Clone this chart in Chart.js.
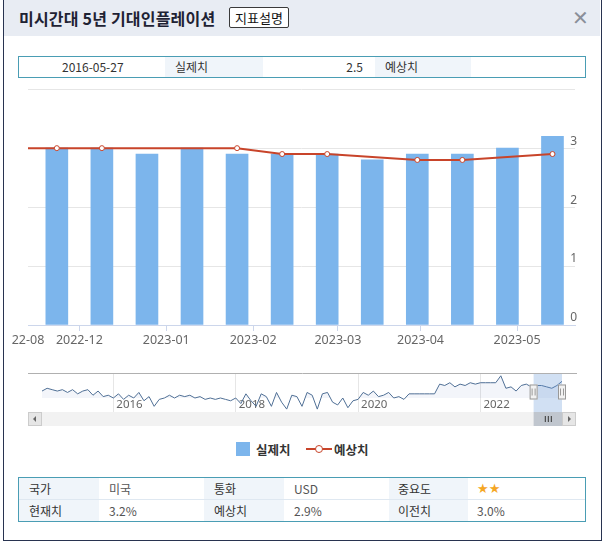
<!DOCTYPE html>
<html>
<head>
<meta charset="utf-8">
<script src="https://cdn.jsdelivr.net/npm/chart.js@4.4.1/dist/chart.umd.min.js"></script>
<style>
  body { margin: 0; width: 606px; height: 545px; background: #fff; position: relative; overflow: hidden;
         font-family: "Noto Sans CJK KR", "Noto Sans", sans-serif; color: #333; }
  .dlg { position: absolute; left: 3px; top: -2px; width: 599px; height: 543px; box-sizing: border-box; border: 1px solid #283350; }
  .hdr { position: absolute; left: 4px; top: 0; width: 596px; height: 36px; background: #e8ecf3; }
  .title { position: absolute; left: 19px; top: 6px; font-size: 16px; font-weight: bold; color: #1e2233; letter-spacing: 0.2px; }
  .btn { position: absolute; left: 229px; top: 7px; height: 21px; width: 60px; box-sizing: border-box; border: 1px solid #3a3a3a;
         border-radius: 2px; background: #fff; font-size: 13px; line-height: 19px; text-align: center; color: #111; }
  .close { position: absolute; left: 572px; top: 6px; font-size: 20px; color: #8a8f99; font-family: "DejaVu Sans", sans-serif; }
  .box { position: absolute; left: 18px; width: 568px; box-sizing: border-box; border: 1px solid #4a9db4; font-size: 12px; }
  .cell { position: absolute; height: 100%; box-sizing: border-box; line-height: 20px; }
  .lab { background: #f0f5fa; }
  .tbl .row { position: absolute; left: 0; width: 100%; height: 21px; }
  .tbl .cell { line-height: 21px; }
  .val { color: #555; }
  .legend { position: absolute; top: 440px; font-size: 12.5px; font-weight: bold; color: #333; }
</style>
</head>
<body>
<div class="hdr"></div>
<div class="dlg"></div>
<div class="title">미시간대 5년 기대인플레이션</div>
<div class="btn">지표설명</div>
<div class="close">✕</div>

<div class="box" style="top:56px;height:22px;">
  <div class="cell" style="left:43px;">2016-05-27</div>
  <div class="cell lab" style="left:146px;width:98px;padding-left:10px;">실제치</div>
  <div class="cell" style="left:244px;width:100px;text-align:right;">2.5</div>
  <div class="cell lab" style="left:356px;width:96px;padding-left:10px;">예상치</div>
</div>

<div style="position:absolute;left:0;top:80px;width:606px;height:270px;"><canvas id="mainChart"></canvas></div>
<div style="position:absolute;left:0;top:365px;width:606px;height:65px;"><canvas id="navChart"></canvas></div>

<div class="legend" style="left:236px;">
  <span style="position:absolute;left:0;top:2px;width:14px;height:14px;background:#7cb5ec;"></span>
  <span style="position:absolute;left:20px;top:0;white-space:nowrap;">실제치</span>
  <span style="position:absolute;left:70px;top:8px;width:26px;height:2px;background:#c8442a;"></span>
  <span style="position:absolute;left:79px;top:5px;width:6px;height:6px;border:1px solid #c8442a;border-radius:50%;background:#fff;"></span>
  <span style="position:absolute;left:98px;top:0;white-space:nowrap;">예상치</span>
</div>

<div class="box tbl" style="top:477px;height:45px;">
  <div class="row" style="top:0;border-bottom:1px solid #dfe8f1;">
    <div class="cell lab" style="left:0;width:80px;padding-left:10px;">국가</div>
    <div class="cell val" style="left:90px;">미국</div>
    <div class="cell lab" style="left:185px;width:80px;padding-left:10px;">통화</div>
    <div class="cell val" style="left:275px;">USD</div>
    <div class="cell lab" style="left:370px;width:79px;padding-left:9px;">중요도</div>
    <div class="cell" style="left:458px;color:#f5a623;font-size:13px;font-family:'DejaVu Sans';">★★</div>
  </div>
  <div class="row" style="top:22px;">
    <div class="cell lab" style="left:0;width:80px;padding-left:10px;">현재치</div>
    <div class="cell val" style="left:90px;">3.2%</div>
    <div class="cell lab" style="left:185px;width:80px;padding-left:10px;">예상치</div>
    <div class="cell val" style="left:275px;">2.9%</div>
    <div class="cell lab" style="left:370px;width:79px;padding-left:9px;">이전치</div>
    <div class="cell val" style="left:458px;">3.0%</div>
  </div>
</div>

<script>
// release dates (prelim / final survey), first one sits just off the left edge
const releaseDates = ['2022-11-11', '2022-11-23', '2022-12-09', '2022-12-23', '2023-01-13', '2023-01-27',
  '2023-02-10', '2023-02-24', '2023-03-17', '2023-03-31', '2023-04-14', '2023-04-28', '2023-05-12'];
const actual   = [3.0, 3.0, 3.0, 2.9, 3.0, 2.9, 2.9, 2.9, 2.8, 2.9, 2.9, 3.0, 3.2];
const forecast = [3.0, 3.0, 3.0, null, null, 3.0, 2.9, 2.9, null, 2.8, 2.8, null, 2.9];
const monthTicks = ['2022-12', '2023-01', '2023-02', '2023-03', '2023-04', '2023-05'];
const edgeLabel = '22-08';
const yTicks = [0, 1, 2, 3];

// navigator: monthly history from 2014-11
const navStart = [2014, 11];
const navValues = [
  2.75, 2.85,
  2.8, 2.75, 2.8, 2.7, 2.8, 2.65, 2.75, 2.8, 2.6, 2.75, 2.55, 2.6,
  2.5, 2.65, 2.45, 2.6, 2.5, 2.7, 2.4, 2.55, 2.2, 2.45, 2.5, 2.6,
  2.5, 2.6, 2.55, 2.6, 2.5, 2.55, 2.45, 2.5, 2.45, 2.5, 2.45, 2.4,
  2.5, 2.3, 2.65, 2.4, 2.2, 2.65, 2.55, 2.2, 2.7, 2.35, 2.1, 2.6,
  2.55, 2.2, 2.7, 2.6, 2.1, 2.65, 2.7, 2.35, 2.25, 2.5, 2.15, 2.4,
  2.45, 2.7, 2.6, 2.75, 2.55, 2.6, 2.7, 2.5, 2.55, 2.45, 2.65, 2.65,
  2.65, 2.65, 2.65, 2.65, 3.0, 2.95, 3.05, 2.9, 3.0, 2.95, 3.05, 3.0,
  3.05, 3.05, 3.05, 3.05, 3.3, 2.85, 2.9, 2.75, 2.95, 3.0, 2.9, 2.95,
  2.95, 2.9, 2.85, 2.95, 3.1
];
const navYearTicks = [2016, 2018, 2020, 2022];

const day = s => new Date(s + 'T00:00:00Z').getTime();
const releaseMs = releaseDates.map(day);

// ordinal axis: month starts placed between neighbouring releases
function ordinalPos(ms) {
  for (let i = 0; i < releaseMs.length - 1; i++) {
    if (ms >= releaseMs[i] && ms < releaseMs[i + 1]) {
      return i + (ms - releaseMs[i]) / (releaseMs[i + 1] - releaseMs[i]);
    }
  }
  return releaseMs.length - 1;
}
const tickPos = monthTicks.map(m => ordinalPos(day(m + '-01')));
const xMin = 0.36, xMax = 12.5;

const red = '#c8442a';

new Chart(document.getElementById('mainChart'), {
  data: {
    datasets: [{
      type: 'line',
      order: 0,
      data: forecast.map((v, i) => ({ x: i, y: v })),
      borderColor: red,
      borderWidth: 2,
      spanGaps: true,
      pointRadius: 2.5,
      pointBackgroundColor: '#fff',
      pointBorderColor: red,
      pointBorderWidth: 1
    }, {
      type: 'bar',
      order: 1,
      data: actual.map((v, i) => ({ x: i, y: v })),
      backgroundColor: '#7cb5ec',
      barThickness: 22
    }]
  },
  options: {
    responsive: true,
    maintainAspectRatio: false,
    animation: false,
    layout: { padding: { left: 28, right: 27, top: 8, bottom: 0 } },
    plugins: { legend: { display: false }, tooltip: { enabled: false } },
    scales: {
      x: {
        type: 'linear',
        offset: false,
        min: xMin,
        max: xMax,
        afterBuildTicks: s => {
          s.ticks = [{ value: xMin }].concat(tickPos.map(v => ({ value: v })));
        },
        ticks: {
          autoSkip: false,
          maxRotation: 0,
          padding: 2,
          color: '#666',
          font: { size: 12.5, family: 'Noto Sans' },
          callback: (v, i) => i === 0 ? edgeLabel : monthTicks[i - 1]
        },
        grid: {
          drawOnChartArea: false,
          offset: false,
          tickLength: 6,
          tickColor: ctx => ctx.index === 0 ? 'rgba(0,0,0,0)' : '#ccd6eb'
        },
        border: { color: '#ccd6eb' }
      },
      y: {
        position: 'right',
        min: 0,
        max: 4,
        afterBuildTicks: s => { s.ticks = yTicks.concat([4]).map(v => ({ value: v })); },
        ticks: {
          mirror: true,
          padding: 2,
          labelOffset: -7,
          color: '#666',
          font: { size: 12, family: 'Noto Sans' },
          callback: v => yTicks.includes(v) ? v : ''
        },
        grid: { color: '#e6e6e6', drawTicks: false },
        border: { display: false }
      }
    }
  }
});

// navigator
const navX = navValues.map((v, i) => navStart[0] + (navStart[1] - 1 + i) / 12);
const viewStartYear = 2022 + (10 + 13 / 30) / 12;   // left edge of the main view, mid Nov 2022

const navDecor = {
  id: 'navDecor',
  afterDraw(chart) {
    const { ctx, chartArea: a } = chart;
    const xs = chart.scales.x;
    const top = a.top, bottom = xs.bottom;
    const x0 = xs.getPixelForValue(viewStartYear), x1 = a.right;
    ctx.save();
    // outline at top
    ctx.strokeStyle = '#b0b0b0';
    ctx.lineWidth = 1;
    ctx.beginPath(); ctx.moveTo(28, top + 0.5); ctx.lineTo(577, top + 0.5); ctx.stroke();
    // selected range
    ctx.fillStyle = 'rgba(102,153,215,0.3)';
    ctx.fillRect(x0, top + 1, x1 - x0, bottom - top - 1);
    // handles
    const hy = top + (bottom - top) / 2 - 8;
    [x0, x1].forEach(hx => {
      ctx.fillStyle = '#f2f2f2';
      ctx.strokeStyle = '#999';
      ctx.fillRect(hx - 4, hy, 8, 15);
      ctx.strokeRect(hx - 3.5, hy + 0.5, 7, 14);
      ctx.beginPath();
      ctx.moveTo(hx - 1.5, hy + 4); ctx.lineTo(hx - 1.5, hy + 11);
      ctx.moveTo(hx + 1.5, hy + 4); ctx.lineTo(hx + 1.5, hy + 11);
      ctx.stroke();
    });
    // scrollbar
    const sy = bottom, sh = 14, sl = 28, sr = 576;
    ctx.fillStyle = '#f2f2f2';
    ctx.fillRect(sl, sy, sr - sl, sh);
    ctx.fillStyle = '#e6e6e6';
    ctx.fillRect(sl, sy, sh, sh);
    ctx.fillRect(sr - sh, sy, sh, sh);
    ctx.strokeStyle = '#cccccc';
    ctx.strokeRect(sl + 0.5, sy + 0.5, sh - 1, sh - 1);
    ctx.strokeRect(sr - sh + 0.5, sy + 0.5, sh - 1, sh - 1);
    ctx.fillStyle = '#666';
    ctx.beginPath(); ctx.moveTo(sl + 8, sy + 4); ctx.lineTo(sl + 5, sy + 7); ctx.lineTo(sl + 8, sy + 10); ctx.fill();
    ctx.beginPath(); ctx.moveTo(sr - 8, sy + 4); ctx.lineTo(sr - 5, sy + 7); ctx.lineTo(sr - 8, sy + 10); ctx.fill();
    ctx.fillStyle = '#c0c6ce';
    ctx.fillRect(x0, sy, x1 - x0, sh);
    ctx.strokeStyle = '#333';
    const mid = (x0 + x1) / 2;
    ctx.beginPath();
    [-3, 0, 3].forEach(d => { ctx.moveTo(mid + d + 0.5, sy + 4); ctx.lineTo(mid + d + 0.5, sy + 10); });
    ctx.stroke();
    ctx.restore();
  }
};

new Chart(document.getElementById('navChart'), {
  type: 'line',
  data: {
    datasets: [{
      data: navValues.map((v, i) => ({ x: navX[i], y: v })),
      borderColor: '#4f6f95',
      borderWidth: 1,
      pointRadius: 0,
      fill: { value: 2.0 },
      backgroundColor: 'rgba(51,92,173,0.06)',
      clip: { left: 0, top: 0, right: 0, bottom: 16 },
      tension: 0
    }]
  },
  options: {
    responsive: true,
    maintainAspectRatio: false,
    animation: false,
    layout: { padding: { left: 42, right: 44, top: 8, bottom: 18 } },
    plugins: { legend: { display: false }, tooltip: { enabled: false } },
    scales: {
      x: {
        type: 'linear',
        min: navX[0],
        max: navX[navX.length - 1],
        afterBuildTicks: s => { s.ticks = navYearTicks.map(v => ({ value: v })); },
        afterFit: s => { s.height = 14; },
        ticks: {
          align: 'start',
          labelOffset: 3,
          padding: -14,
          maxRotation: 0,
          autoSkip: false,
          color: '#666',
          font: { size: 11.5, family: 'Noto Sans' },
          callback: v => String(v)
        },
        grid: { color: '#e6e6e6', tickColor: '#e6e6e6', tickLength: 14 },
        border: { display: false }
      },
      y: { display: false, min: 2.5, max: 3.4 }
    }
  },
  plugins: [navDecor]
});
</script>
</body>
</html>
